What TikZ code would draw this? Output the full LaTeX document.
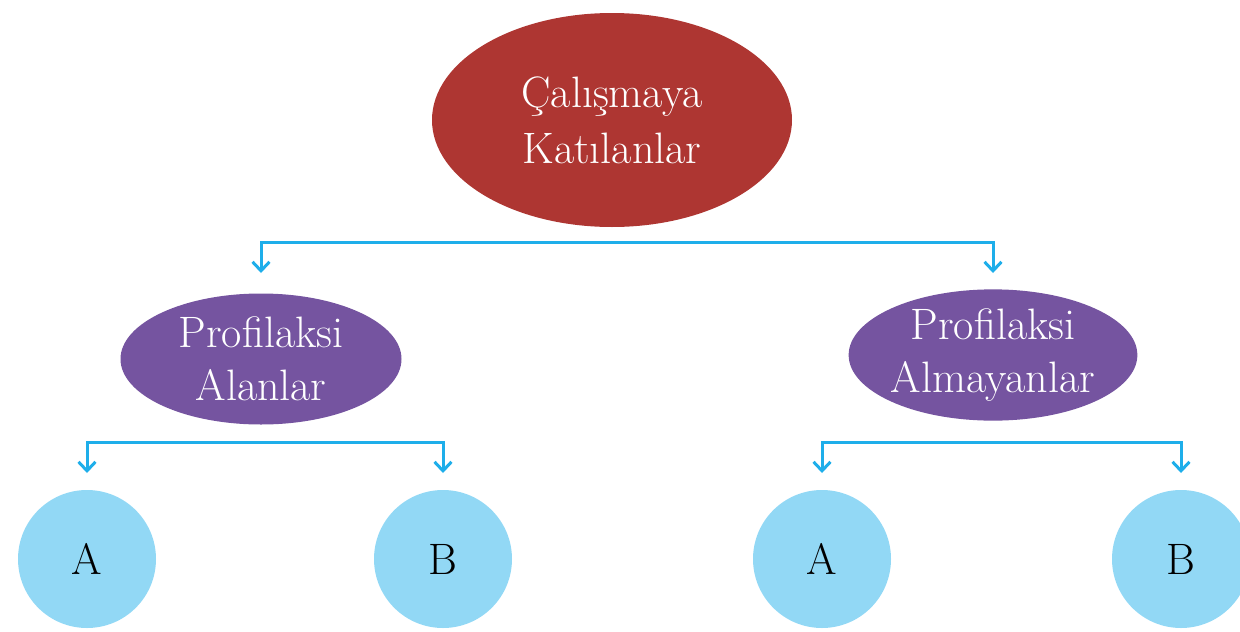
\documentclass[tikz,border=0pt]{standalone}
\usetikzlibrary{shapes.geometric,arrows.meta}
\definecolor{topred}{HTML}{AE3632}
\definecolor{midpurple}{HTML}{7554A0}
\definecolor{leafblue}{HTML}{92D8F5}
\definecolor{connblue}{HTML}{1EAEEA}
\begin{document}
\begin{tikzpicture}[x=1pt,y=-1pt,
  rootnode/.style={ellipse,fill=topred,text=white,inner sep=0pt,minimum width=360pt,minimum height=214pt,align=center,font=\fontsize{44}{56}\selectfont},
  midnode/.style={ellipse,fill=midpurple,text=white,inner sep=0pt,minimum width=281pt,minimum height=131pt,align=center,font=\fontsize{44}{53}\selectfont},
  leafnode/.style={circle,fill=leafblue,text=black,inner sep=0pt,minimum size=138pt,font=\fontsize{44}{53}\selectfont},
  conn/.style={draw=connblue,line width=3pt,-{Straight Barb[length=9pt,width=17pt,line width=3pt]}}
]
\useasboundingbox (0,0) rectangle (1240,632);
\node[rootnode] (top) at (612,120) {Çalışmaya\\Katılanlar};
\node[midnode] (pl) at (261,359) {Profilaksi\\Alanlar};
\node[midnode] (pr) at (993,355) {Profilaksi\\Almayanlar};
\node[leafnode] (a1) at (87,559) {A};
\node[leafnode] (b1) at (443,559) {B};
\node[leafnode] (a2) at (822,559) {A};
\node[leafnode] (b2) at (1181,559) {B};
\coordinate (h1) at (612,242);
\coordinate (e1) at (0,273);
\coordinate (h2) at (265,442);
\coordinate (h3) at (1000,442);
\coordinate (e2) at (0,473);
\draw[conn] (h1) -| (pl.north |- e1);
\draw[conn] (h1) -| (pr.north |- e1);
\draw[conn] (h2) -| (a1.north |- e2);
\draw[conn] (h2) -| (b1.north |- e2);
\draw[conn] (h3) -| (a2.north |- e2);
\draw[conn] (h3) -| (b2.north |- e2);
\end{tikzpicture}
\end{document}
